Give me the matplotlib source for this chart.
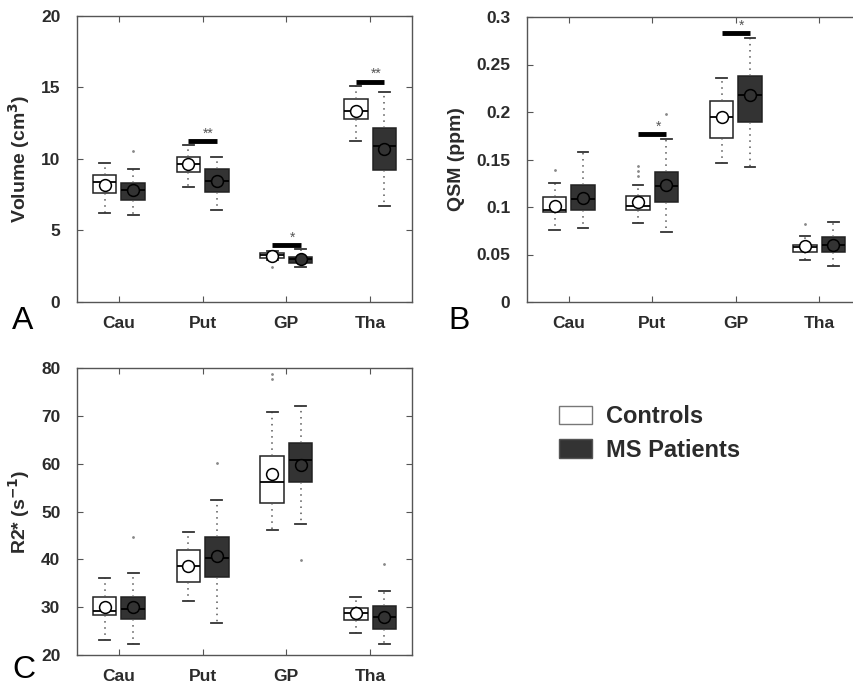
import matplotlib
matplotlib.use("Agg")
import matplotlib.pyplot as plt
from matplotlib.patches import Patch

plt.rcParams['font.family'] = ['Liberation Sans', 'DejaVu Sans']

# --- DATA ---
regions = ["Cau", "Put", "GP", "Tha"]

# each row: whislo, q1, median, q3, whishi, mean
vol_ctrl = [[6.24, 7.61, 8.36, 8.87, 9.69, 8.20],
            [8.06, 9.06, 9.62, 10.15, 10.97, 9.62],
            [2.95, 3.10, 3.26, 3.42, 3.55, 3.22],
            [11.29, 12.78, 13.34, 14.20, 15.11, 13.36]]
vol_ms = [[6.05, 7.15, 7.80, 8.29, 9.31, 7.80],
          [6.43, 7.68, 8.45, 9.31, 10.15, 8.45],
          [2.45, 2.70, 3.00, 3.18, 3.70, 3.00],
          [6.70, 9.24, 10.94, 12.20, 14.71, 10.71]]
vol_ctrl_fliers = [[], [], [2.45], []]
vol_ms_fliers = [[10.57], [], [], []]

qsm_ctrl = [[0.0758, 0.0947, 0.0965, 0.1105, 0.1253, 0.1010],
            [0.0835, 0.0972, 0.1007, 0.1112, 0.1228, 0.1050],
            [0.1463, 0.1726, 0.1947, 0.2116, 0.2358, 0.1947],
            [0.0439, 0.0526, 0.0579, 0.0604, 0.0698, 0.0586]]
qsm_ms = [[0.0775, 0.0965, 0.1088, 0.1228, 0.1575, 0.1095],
          [0.0733, 0.1053, 0.1225, 0.1365, 0.1720, 0.1228],
          [0.1418, 0.1898, 0.2175, 0.2379, 0.2775, 0.2175],
          [0.0379, 0.0526, 0.0604, 0.0680, 0.0839, 0.0604]]
qsm_ctrl_fliers = [[0.139], [0.143, 0.138, 0.133], [], [0.082]]
qsm_ms_fliers = [[], [0.198], [], []]

r2_ctrl = [[23.1, 28.3, 29.1, 32.2, 36.0, 30.1],
           [31.2, 35.2, 38.6, 41.9, 45.8, 38.6],
           [46.1, 51.8, 56.1, 61.5, 70.7, 57.8],
           [24.7, 27.3, 28.7, 29.9, 32.1, 28.7]]
r2_ms = [[22.3, 27.5, 29.6, 32.2, 37.2, 30.1],
         [26.6, 36.4, 40.2, 44.7, 52.4, 40.6],
         [47.3, 56.2, 60.8, 64.3, 72.1, 59.8],
         [22.2, 25.4, 27.9, 30.2, 33.4, 28.0]]
r2_ctrl_fliers = [[], [], [78.8, 77.6], []]
r2_ms_fliers = [[44.6], [60.1], [39.9], [39.0]]

# significance: (region index, bar height, stars)
vol_sig = [(1, 11.27, "**"), (2, 4.0, "*"), (3, 15.41, "**")]
qsm_sig = [(1, 0.1768, "*"), (2, 0.2828, "*")]
r2_sig = []

TXT = "#2b2b2b"
DARK = "#333333"
OFF = 0.17


def make_stats(rows, fliers):
    stats = []
    for r, f in zip(rows, fliers):
        stats.append(dict(whislo=r[0], q1=r[1], med=r[2], q3=r[3],
                          whishi=r[4], mean=r[5], fliers=f))
    return stats


def draw_group(ax, rows, fliers, positions, face, meanface):
    ax.bxp(make_stats(rows, fliers), positions=positions, widths=0.28,
           patch_artist=True, showmeans=True, manage_ticks=False,
           capwidths=0.13,
           boxprops=dict(facecolor=face, edgecolor="#222222", linewidth=1.1),
           medianprops=dict(color="black", linewidth=1.3),
           whiskerprops=dict(color="#555555", linestyle=(0, (1, 3)), linewidth=1.1),
           capprops=dict(color="#333333", linewidth=1.3),
           flierprops=dict(marker=".", markersize=2, markerfacecolor="#888888",
                           markeredgecolor="#888888"),
           meanprops=dict(marker="o", markersize=8.5, markerfacecolor=meanface,
                          markeredgecolor="black", markeredgewidth=1.1))


def painel(ax, ctrl, ms, ctrl_f, ms_f, sig, ylim, yticks, yticklabels, ylabel):
    pos = range(1, len(regions) + 1)
    draw_group(ax, ctrl, ctrl_f, [p - OFF for p in pos], "white", "white")
    draw_group(ax, ms, ms_f, [p + OFF for p in pos], DARK, DARK)
    for i, y, s in sig:
        ax.plot([i + 1 - OFF, i + 1 + OFF], [y, y], color="black", lw=3.5,
                solid_capstyle="butt")
        ax.annotate(s, xy=(i + 1.07, y), xytext=(0, 2.5), textcoords="offset points",
                    ha="center", va="baseline", fontsize=10, color="#555555")
    ax.set_xlim(0.5, 4.5)
    ax.set_ylim(*ylim)
    ax.set_xticks(list(pos))
    ax.set_xticklabels(regions, fontsize=12.5, fontweight="bold", color=TXT)
    ax.set_yticks(yticks)
    ax.set_yticklabels(yticklabels, fontsize=12.5, fontweight="bold", color=TXT)
    ax.tick_params(axis="both", direction="in", top=True, right=True,
                   length=4, width=0.8, color="#555555")
    ax.tick_params(axis="x", pad=10)
    ax.tick_params(axis="y", pad=12)
    ax.set_ylabel(ylabel, fontsize=14, fontweight="bold", color=TXT)
    for sp in ax.spines.values():
        sp.set_color("#555555")
        sp.set_linewidth(1.0)


fig = plt.figure(figsize=(8.54, 6.86), dpi=100)
W, H = 854, 686
axA = fig.add_axes([77 / W, (H - 302) / H, 335 / W, 286 / H])
axB = fig.add_axes([527 / W, (H - 302) / H, 334 / W, 285 / H])
axC = fig.add_axes([77 / W, (H - 655) / H, 335 / W, 287 / H])

painel(axA, vol_ctrl, vol_ms, vol_ctrl_fliers, vol_ms_fliers, vol_sig,
       (0, 20), [0, 5, 10, 15, 20], ["0", "5", "10", "15", "20"],
       "Volume (cm$^\\mathbf{3}$)")
painel(axB, qsm_ctrl, qsm_ms, qsm_ctrl_fliers, qsm_ms_fliers, qsm_sig,
       (0, 0.3), [0, 0.05, 0.1, 0.15, 0.2, 0.25, 0.3],
       ["0", "0.05", "0.1", "0.15", "0.2", "0.25", "0.3"],
       "QSM (ppm)")
painel(axC, r2_ctrl, r2_ms, r2_ctrl_fliers, r2_ms_fliers, r2_sig,
       (20, 80), [20, 30, 40, 50, 60, 70, 80],
       ["20", "30", "40", "50", "60", "70", "80"],
       "R2* (s$^\\mathbf{-1}$)")

axA.yaxis.set_label_coords(-0.134, 0.5)
axB.yaxis.set_label_coords(-0.186, 0.5)
axC.yaxis.set_label_coords(-0.134, 0.5)

# panel letters
fig.text(12 / W, 1 - 329 / H, "A", fontsize=23, color="black")
fig.text(448 / W, 1 - 329 / H, "B", fontsize=23, color="black")
fig.text(12 / W, 1 - 678 / H, "C", fontsize=23, color="black")

handles = [Patch(facecolor="white", edgecolor="#777777", linewidth=1),
           Patch(facecolor=DARK, edgecolor="#555555", linewidth=1)]
leg = fig.legend(handles, ["Controls", "MS Patients"], loc="upper left",
                 bbox_to_anchor=(538 / W, 1 - 384 / H), frameon=False,
                 prop=dict(size=17, weight="bold"), handlelength=1.4,
                 handleheight=0.85, labelspacing=0.45, handletextpad=0.6)
for t in leg.get_texts():
    t.set_color(TXT)

fig.savefig("out.png", dpi=100)
